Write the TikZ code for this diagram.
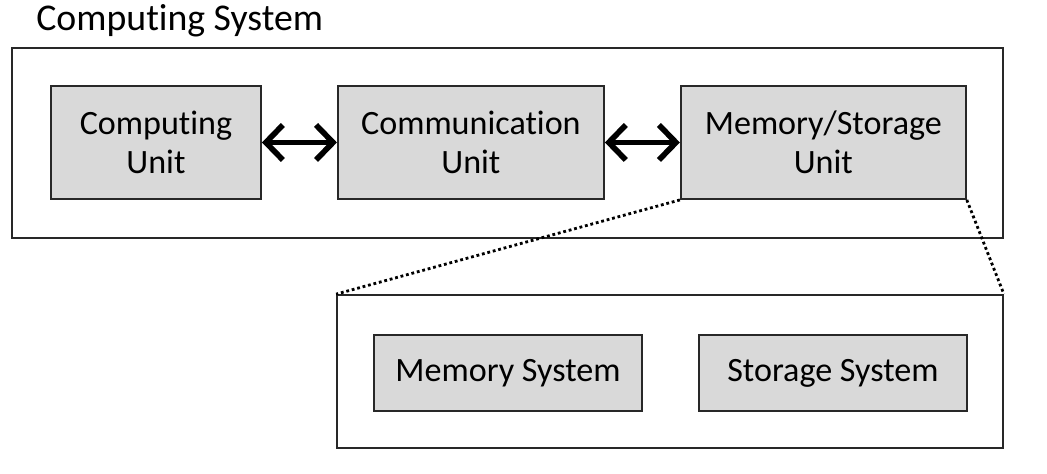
\documentclass[tikz,border=0pt]{standalone}
\usepackage{fontspec}
\setmainfont{Carlito}[Ligatures=NoCommon]
\definecolor{boxgray}{RGB}{217, 217, 217}
\definecolor{edgegray}{RGB}{40, 40, 40}
\usetikzlibrary{arrows.meta, positioning, fit}
\tikzset{
	unit/.style={rectangle, draw=edgegray, fill=boxgray, line width=1.1pt, align=center, minimum height=2.26cm, inner sep=0pt, font=\fontsize{19.4}{22.2}\selectfont},
	subsys/.style={rectangle, draw=edgegray, fill=boxgray, line width=1.1pt, align=center, minimum width=5.36cm, minimum height=1.52cm, inner sep=0pt, font=\fontsize{19.4}{22.2}\selectfont},
	frame/.style={rectangle, draw=edgegray, line width=1pt, inner sep=0pt},
	link/.style={{Straight Barb[length=3.4mm, width=7mm]}-{Straight Barb[length=3.4mm, width=7mm]}, line width=3.2pt},
	zoomline/.style={line width=1.6pt, dash pattern=on 1.6pt off 1.6pt},
}
\begin{document}
\begin{tikzpicture}[node distance=1.5cm]
		\useasboundingbox (0,0) rectangle (20.94,-9.46);
		\node[anchor=base west, inner sep=0pt, font=\fontsize{21.5}{24}\selectfont] (title) at (0.72,-0.6) {Computing System};
		\node[unit, minimum width=4.2cm, anchor=north west] (cpu) at (1.0,-1.7) {Computing\\Unit};
		\node[unit, minimum width=5.32cm, right=of cpu] (comm) {Communication\\Unit};
		\node[unit, minimum width=5.7cm, right=of comm] (mem) {Memory/Storage\\Unit};
		\node[subsys, anchor=north west] (memsys) at (7.46,-6.68) {Memory System};
		\node[subsys, right=1.1cm of memsys] (storsys) {Storage System};
		\node[frame, fit={(0.24,-0.96) (20.06,-4.76)}] (system) {};
		\node[frame, fit={(6.74,-5.9) (20.06,-8.96)}] (detail) {};
		\draw[link] (cpu) -- (comm);
		\draw[link] (comm) -- (mem);
		\draw[zoomline] (mem.south west) -- (detail.north west);
		\draw[zoomline] (mem.south east) -- (detail.north east);
	\end{tikzpicture}
\end{document}
